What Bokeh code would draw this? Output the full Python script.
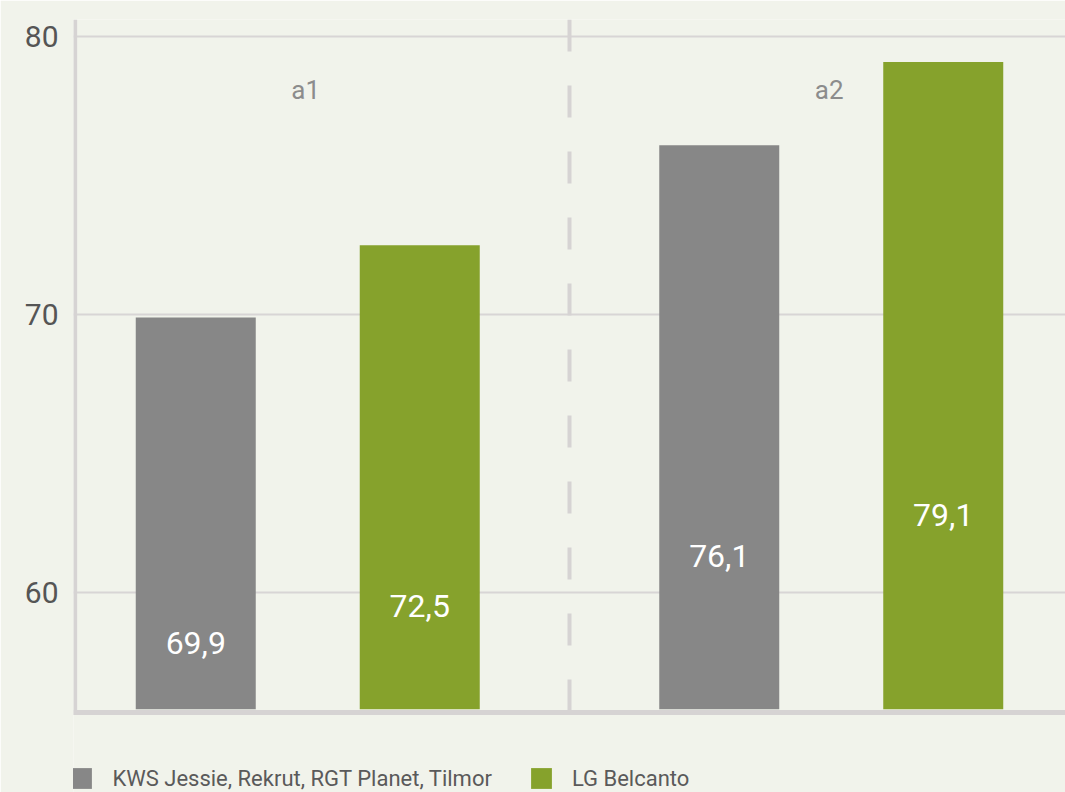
from bokeh.plotting import figure
from bokeh.models import (ColumnDataSource, FactorRange, FixedTicker,
                          Legend, LegendItem, Range1d)
from bokeh.core.properties import value
from bokeh.embed import file_html
from bokeh.resources import INLINE

# ---- data -------------------------------------------------------------
groups = ["a1", "a2"]
varieties = ["KWS Jessie, Rekrut, RGT Planet, Tilmor", "LG Belcanto"]
kws_values = [69.9, 76.1]
lg_values = [72.5, 79.1]
y_ticks = [60, 70, 80]

# ---- style ------------------------------------------------------------
BG = "#f1f3eb"
GRID = "#d8d5d5"
AXIS = "#d6d3d3"
COLORS = ["#878787", "#86a22c"]
FONT = "Roboto"

# value axis: the frame also holds the legend strip under the bars
Y_START, Y_END = 52.80, 80.63
BASE = 55.80          # bars start here (value axis baseline)
AXIS_Y = 55.68        # centre of the thick baseline rule
AXIS_Y_LOW = 55.59    # lower edge of that rule
LABEL_BASE = 46.5     # value labels sit half-way between this and the bar top

FACTOR_PAD = 0.4933
GROUP_PAD = 0.9967
RANGE_PAD = 0.315     # added on each side of the factor range

x_range = FactorRange(*[(g, v) for g in groups for v in varieties],
                      factor_padding=FACTOR_PAD, group_padding=GROUP_PAD,
                      range_padding=RANGE_PAD, range_padding_units="absolute")
n_factors = len(groups) * len(varieties)
X_LEFT = -RANGE_PAD
X_RIGHT = (n_factors + len(groups) * (len(varieties) - 1) * FACTOR_PAD
           + (len(groups) - 1) * GROUP_PAD + RANGE_PAD)

p = figure(x_range=x_range, y_range=Range1d(Y_START, Y_END),
           width=1065, height=792, output_backend="svg", toolbar_location=None,
           x_axis_location=None,
           min_border_left=73, min_border_right=0, min_border_top=19,
           min_border_bottom=0, background_fill_color=BG,
           border_fill_color=BG, outline_line_color=None)

# horizontal grid
p.xgrid.visible = False
p.ygrid.ticker = FixedTicker(ticks=y_ticks)
p.ygrid.grid_line_color = GRID
p.ygrid.grid_line_width = 2

# bars, one renderer per variety
renderers = []
for variety, vals, color in zip(varieties, [kws_values, lg_values], COLORS):
    src = ColumnDataSource(dict(
        x=[(g, variety) for g in groups],
        top=vals,
        label_y=[(v + LABEL_BASE) / 2 for v in vals],
        label=[f"{v:.1f}".replace(".", ",") for v in vals],
    ))
    r = p.vbar(x="x", top="top", bottom=BASE, width=0.8, source=src,
               fill_color=color, line_color=None)
    renderers.append(r)
    p.text(x="x", y="label_y", text="label", source=src, text_color="white",
           text_font=value(FONT), text_font_size="32px",
           text_align="center", text_baseline="middle")

# group captions near the top
p.text(x=groups, y=[Y_END - 2.53] * len(groups), text=groups,
       text_color="#8c8c8c", text_font=value(FONT), text_font_size="26px",
       text_align="center", text_baseline="middle", x_offset=-2)

# dashed separator between the two groups
sep_x = len(varieties) + FACTOR_PAD + GROUP_PAD / 2
p.segment(x0=[sep_x], y0=[Y_END], x1=[sep_x], y1=[AXIS_Y], line_color=AXIS,
          line_width=4, line_dash="32 34")

# axis rules: thick baseline and left value-axis line
p.segment(x0=[X_LEFT], y0=[AXIS_Y], x1=[X_RIGHT], y1=[AXIS_Y],
          line_color=AXIS, line_width=5)
p.segment(x0=[X_LEFT + 0.011], y0=[AXIS_Y_LOW], x1=[X_LEFT + 0.011], y1=[Y_END],
          line_color=AXIS, line_width=4)

# value axis labels
p.yaxis.ticker = FixedTicker(ticks=y_ticks)
p.yaxis.axis_line_color = None
p.yaxis.major_tick_line_color = None
p.yaxis.minor_tick_line_color = None
p.yaxis.major_label_text_font = FONT
p.yaxis.major_label_text_font_size = "30px"
p.yaxis.major_label_text_color = "#555555"
p.yaxis.major_label_standoff = 9

legend = Legend(
    items=[LegendItem(label=v, renderers=[r]) for v, r in zip(varieties, renderers)],
    orientation="horizontal", location=(-4.6, 1.0),
    glyph_width=26, glyph_height=26, label_standoff=18, spacing=36,
    padding=0, margin=0, background_fill_alpha=0, border_line_color=None,
    label_text_font=FONT, label_text_font_size="22px",
    label_text_color="#5a5a5a",
)
p.add_layout(legend)

open("out.html", "w").write(file_html(p, INLINE))
